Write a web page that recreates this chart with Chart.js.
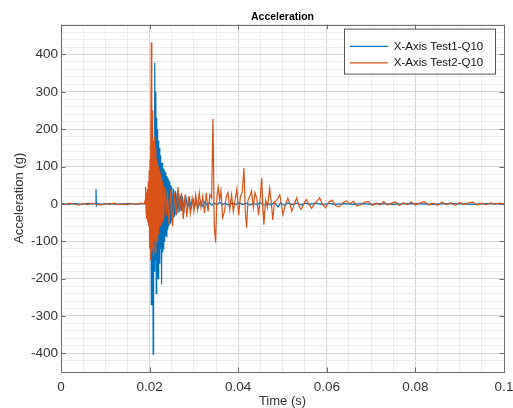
<!DOCTYPE html>
<html>
<head>
<meta charset="utf-8">
<script src="https://cdn.jsdelivr.net/npm/chart.js@4/dist/chart.umd.min.js"></script>
<style>
  html, body { margin: 0; padding: 0; background: #fff; }
  #wrap { width: 513px; height: 408px; }
</style>
</head>
<body>
<div id="wrap"><canvas id="accel-chart" width="513" height="408"></canvas></div>
<script>
// Test1 (blue) samples: time (s) and acceleration (g)
const test1Time = [
  0, 0.0015, 0.003, 0.0045, 0.006, 0.0075, 0.0078, 0.0079, 0.0080, 0.0082, 0.0095, 0.011, 0.0125, 0.014, 0.0155, 0.017, 0.0185, 0.0195,
  0.0199, 0.0200, 0.0201, 0.0202, 0.0203, 0.0204, 0.0205, 0.0206, 0.0207, 0.0208,
  0.0209, 0.0210, 0.0211, 0.0212, 0.0213, 0.0214, 0.0215, 0.0216, 0.0217, 0.0218,
  0.0219, 0.0220, 0.0221, 0.0222, 0.0223, 0.0224, 0.0225, 0.0226, 0.0227, 0.0228,
  0.0229, 0.0230, 0.0231, 0.0232, 0.0233, 0.0234, 0.0235, 0.0236, 0.0237, 0.0238,
  0.0239, 0.0240, 0.0241, 0.0242, 0.0243, 0.0244, 0.0245, 0.0246, 0.0247, 0.0248,
  0.0249, 0.0250, 0.0252, 0.0254, 0.0256, 0.0258, 0.0260, 0.0262, 0.0264, 0.0266,
  0.0268, 0.0270, 0.0272,
  0.0274, 0.0278, 0.0282, 0.0286, 0.0290, 0.0294, 0.0298, 0.0302, 0.0306, 0.0310,
  0.0315, 0.0320, 0.0325, 0.0330, 0.0335, 0.0340, 0.0346, 0.0352, 0.0358, 0.0364,
  0.0370, 0.0378, 0.0386, 0.0394, 0.0402, 0.0410, 0.0418, 0.0426, 0.0434, 0.0442,
  0.0450, 0.0458, 0.0466, 0.0474, 0.0482, 0.0490, 0.0496, 0.0504, 0.0512, 0.0522,
  0.0532, 0.0542, 0.0552, 0.0562, 0.0575, 0.0590, 0.0605, 0.0620, 0.0640, 0.0660,
  0.0680, 0.0700, 0.0720, 0.0750, 0.0780, 0.0810, 0.0840, 0.0870, 0.0900, 0.0930,
  0.0960, 0.1000
];
const test1Accel = [
  0, -1, 1, -1, 1, 0, 2, 40, -4, 1, -1, 1, -1, 0, 1, -1, 1, 0,
  10, -40, 60, -120, 120, -270, 170, -200, 160, -402,
  150, -180, 250, 378, -150, 300, -240, 230, -190, 200,
  -200, 170, -150, 150, -160, 130, -120, 110, -215, 110,
  -130, 100, -120, 95, -100, 90, -85, 85, -80, 75,
  -90, 70, -70, 65, -60, 60, -55, 55, -50, 50,
  -45, 45, -40, 40, -35, 35, -30, 30, -25, 28,
  -20, 22, -18,
  20, -15, 18, -12, 14, -10, 12, -8, 10, -9,
  8, -6, 7, -5, 4, -4, 3, -3, 4, -2,
  2, -3, 2, -2, 3, -2, 2, -3, 1, -2,
  3, -4, 2, -3, 4, -8, 3, -4, 2, -2,
  2, -3, 2, -1, 2, -2, 1, -1, 1, -1,
  1, -1, 1, -1, 1, 0, -1, 1, 0, -1,
  1, 0
];

// Test2 (orange) samples
const test2Time = [
  0, 0.001, 0.002, 0.003, 0.004, 0.005, 0.006, 0.007, 0.008, 0.009,
  0.010, 0.011, 0.012, 0.013, 0.014, 0.015, 0.016, 0.017, 0.018, 0.0188,
  0.0190, 0.0191, 0.0192, 0.0193, 0.0194, 0.0195, 0.0196, 0.0197, 0.0198, 0.0199,
  0.0200, 0.0201, 0.0202, 0.0203, 0.0204, 0.0205, 0.0206, 0.0207, 0.0208, 0.0209,
  0.0210, 0.0211, 0.0212, 0.0213, 0.0214, 0.0215, 0.0216, 0.0217, 0.0218, 0.0219,
  0.0220, 0.0221, 0.0222, 0.0223, 0.0224, 0.0225, 0.0226, 0.0227, 0.0228, 0.0229,
  0.0230, 0.0232, 0.0234, 0.0236, 0.0238,
  0.0240, 0.0244, 0.0248, 0.0252, 0.0256, 0.0260, 0.0264, 0.0268, 0.0272, 0.0276,
  0.0280, 0.0284, 0.0288, 0.0292, 0.0296, 0.0300, 0.0304, 0.0308, 0.0312, 0.0316,
  0.0320, 0.0324, 0.0328, 0.0332, 0.0336, 0.0340, 0.0343, 0.0346, 0.0349, 0.0352,
  0.0355, 0.0358, 0.0361, 0.0365, 0.0369, 0.0373, 0.0377, 0.0381, 0.0385, 0.0389,
  0.0393, 0.0397, 0.0401, 0.0405, 0.0409, 0.0413, 0.0416, 0.0419, 0.0422, 0.0426,
  0.0430, 0.0434, 0.0438, 0.0442, 0.0446, 0.0450, 0.0453, 0.0456, 0.0458, 0.0462,
  0.0466, 0.0471, 0.0475, 0.0478, 0.0482, 0.0487, 0.0494, 0.0501, 0.0507, 0.0512,
  0.0517, 0.0521, 0.0527, 0.0532, 0.0537, 0.0542, 0.0548, 0.0554, 0.0560, 0.0566,
  0.0572, 0.0578, 0.0584, 0.0590, 0.0597, 0.0605, 0.0612, 0.0620, 0.0628, 0.0636,
  0.0645, 0.0652, 0.0660, 0.0668, 0.0676, 0.0685, 0.0694, 0.0703, 0.0712, 0.0720,
  0.0728, 0.0737, 0.0746, 0.0755, 0.0764, 0.0773, 0.0782, 0.0791, 0.0800, 0.0810,
  0.0820, 0.0830, 0.0840, 0.0850, 0.0860, 0.0870, 0.0880, 0.0890, 0.0900, 0.0910,
  0.0920, 0.0930, 0.0940, 0.0950, 0.0960, 0.0970, 0.0980, 0.0990, 0.1000
];
const test2Accel = [
  1, -2, 2, -1, -3, 1, -2, 2, -1, -3,
  1, -1, 2, -2, 0, -2, 1, -1, 2, 0,
  10, 45, -20, 30, -40, 40, -50, 60, -60, 90,
  -120, 120, -150, 150, 433, -130, 250, -120, 170, -140,
  160, -100, 180, -130, 150, -90, 120, -100, 110, -80,
  100, -70, 90, -60, 80, -60, 70, -50, 60, -50,
  50, -40, 45, 10, -30,
  35, -55, 40, -60, 30, -30, 45, -20, 30, -40,
  25, -35, 20, -25, 15, -20, 25, -15, 30, -10,
  20, -25, 30, -20, 25, 15, 228, -60, -104, 20,
  45, 10, 35, -37, -20, 19, 30, -15, 25, -20,
  10, 40, -30, 20, 30, 96, -20, -64, 10, 20,
  35, -10, 30, 15, -30, 20, 69, -20, -56, 10,
  -10, 42, 0, -43, 5, 10, 24, -29, 0, 15,
  0, -20, 0, 16, -5, -15, 0, 12, -2, -12,
  0, 8, 16, 0, -10, 5, 10, -5, -8, 3,
  8, 0, 7, -5, -3, 5, 6, -4, 2, -3,
  6, -3, 2, 5, -4, 3, -2, 5, -3, 2,
  6, -3, 2, -4, 5, -2, 3, -4, 4, -2,
  3, 5, -3, 2, -2, 3, -1, 2, 0
];

const seriesLabels = ['X-Axis Test1-Q10', 'X-Axis Test2-Q10'];
const xMajorTicks = [0, 0.02, 0.04, 0.06, 0.08, 0.1];
const yMajorTicks = [-400, -300, -200, -100, 0, 100, 200, 300, 400];

const FONT = "'Liberation Sans', Arial, Helvetica, sans-serif";
const BLUE = '#0072BD';
const ORANGE = '#D95319';

function toPoints(times, values) {
  return times.map((t, i) => ({ x: t, y: values[i] }));
}

function isMajor(v, list) {
  return list.some(m => Math.abs(m - v) < 1e-9);
}

// Positions the title over the plot box, moves the legend into the top right
// corner and draws the MATLAB style box with inward ticks
const axesBox = {
  id: 'axesBox',
  afterLayout(chart) {
    const ca = chart.chartArea;
    if (chart.titleBlock) {
      chart.titleBlock.left = ca.left;
      chart.titleBlock.right = ca.right;
    }
    const lg = chart.legend;
    if (lg) {
      const boxLeft = ca.right - 160;
      const boxTop = ca.top + 4;
      lg.left = boxLeft + 1;
      lg.right = ca.right - 9;
      lg.top = boxTop + 7;
      lg.bottom = boxTop + 45;
      lg._boxRect = { x: boxLeft, y: boxTop, w: 151, h: 45 };
      if (!lg._wrapped) {
        const orig = lg.draw;
        lg.draw = function () {
          const r = this._boxRect;
          const ctx = this.ctx;
          ctx.save();
          ctx.fillStyle = '#fff';
          ctx.fillRect(r.x, r.y, r.w, r.h);
          ctx.strokeStyle = '#555';
          ctx.lineWidth = 1;
          ctx.strokeRect(r.x + 0.5, r.y + 0.5, r.w, r.h);
          ctx.restore();
          orig.apply(this, arguments);
        };
        lg._wrapped = true;
      }
    }
  },
  afterDatasetsDraw(chart) {
    const ctx = chart.ctx;
    const ca = chart.chartArea;
    const xs = chart.scales.x;
    const ys = chart.scales.y;
    const len = 4.5;
    ctx.save();
    ctx.strokeStyle = '#6b6b6b';
    ctx.lineWidth = 1;
    ctx.strokeRect(Math.round(ca.left) + 0.5, Math.round(ca.top) + 0.5,
      Math.round(ca.right - ca.left), Math.round(ca.bottom - ca.top));
    ctx.beginPath();
    xMajorTicks.forEach(v => {
      const px = Math.round(xs.getPixelForValue(v)) + 0.5;
      ctx.moveTo(px, ca.bottom); ctx.lineTo(px, ca.bottom - len);
      ctx.moveTo(px, ca.top); ctx.lineTo(px, ca.top + len);
    });
    yMajorTicks.forEach(v => {
      const py = Math.round(ys.getPixelForValue(v)) + 0.5;
      ctx.moveTo(ca.left, py); ctx.lineTo(ca.left + len, py);
      ctx.moveTo(ca.right, py); ctx.lineTo(ca.right - len, py);
    });
    ctx.stroke();
    ctx.restore();
  }
};

document.addEventListener('DOMContentLoaded', () => {
  const ctx = document.getElementById('accel-chart').getContext('2d');
  new Chart(ctx, {
    type: 'line',
    data: {
      datasets: [{
        label: seriesLabels[0],
        data: toPoints(test1Time, test1Accel),
        borderColor: BLUE,
        backgroundColor: BLUE,
        borderWidth: 1.2,
        pointRadius: 0,
        tension: 0,
        order: 1
      }, {
        label: seriesLabels[1],
        data: toPoints(test2Time, test2Accel),
        borderColor: ORANGE,
        backgroundColor: ORANGE,
        borderWidth: 1.2,
        pointRadius: 0,
        tension: 0,
        order: 0
      }]
    },
    options: {
      responsive: false,
      animation: false,
      parsing: false,
      layout: { padding: { left: 0, right: 9, top: 0, bottom: 0 } },
      plugins: {
        title: {
          display: true,
          text: 'Acceleration',
          color: '#000',
          font: { family: FONT, size: 10.5, weight: 'bold' },
          padding: { top: 11, bottom: 1 }
        },
        legend: {
          display: true,
          position: 'chartArea',
          align: 'start',
          labels: {
            color: '#111',
            font: { family: FONT, size: 11.5 },
            usePointStyle: true,
            pointStyle: 'line',
            pointStyleWidth: 38,
            padding: 5,
            sort: (a, b) => a.datasetIndex - b.datasetIndex
          }
        },
        tooltip: { enabled: false }
      },
      scales: {
        x: {
          type: 'linear',
          min: 0,
          max: 0.1,
          afterFit: (scale) => {
            scale.height = 36;
            scale.paddingLeft = 0;
            scale.paddingRight = 0;
          },
          border: { display: false },
          grid: {
            drawTicks: false,
            color: (c) => isMajor(c.tick.value, xMajorTicks) ? '#d6d6d6' : '#ececec'
          },
          ticks: {
            stepSize: 0.005,
            autoSkip: false,
            maxRotation: 0,
            padding: 7,
            color: '#333',
            font: { family: FONT, size: 13.5 },
            callback: (v) => isMajor(v, xMajorTicks) ? String(Math.round(v * 100) / 100) : ''
          },
          title: {
            display: true,
            text: 'Time (s)',
            color: '#333',
            font: { family: FONT, size: 13, lineHeight: 1 },
            padding: { top: 0, bottom: 0 }
          }
        },
        y: {
          min: -450,
          max: 480,
          afterFit: (scale) => {
            scale.width = 61;
            scale.paddingTop = 0;
            scale.paddingBottom = 0;
          },
          border: { display: false },
          grid: {
            drawTicks: false,
            color: (c) => isMajor(c.tick.value, yMajorTicks) ? '#d6d6d6' : '#ececec'
          },
          ticks: {
            stepSize: 20,
            autoSkip: false,
            padding: 3,
            color: '#333',
            font: { family: FONT, size: 13.5 },
            callback: (v) => isMajor(v, yMajorTicks) ? String(v) : ''
          },
          title: {
            display: true,
            text: 'Acceleration (g)',
            color: '#333',
            font: { family: FONT, size: 13, lineHeight: 1 },
            padding: { top: 13, bottom: 0 }
          }
        }
      }
    },
    plugins: [axesBox]
  });
});
</script>
</body>
</html>
